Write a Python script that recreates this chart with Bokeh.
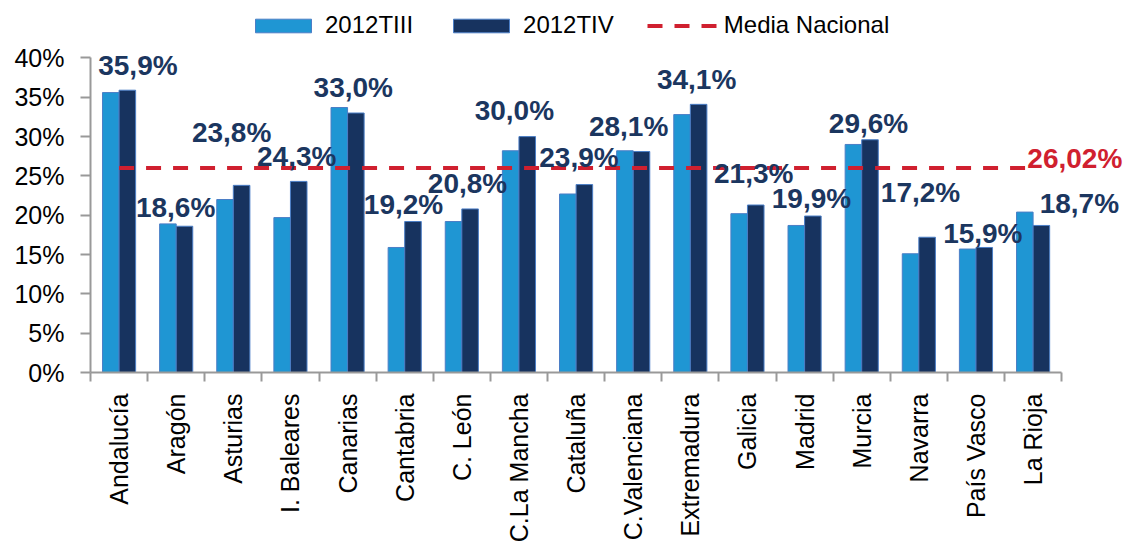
import math
from bokeh.plotting import figure
from bokeh.models import (ColumnDataSource, Range1d, FixedTicker, LabelSet, Label,
                          Legend, LegendItem)
from bokeh.core.properties import value
from bokeh.embed import file_html
from bokeh.resources import INLINE

# ---------------- data ----------------
regions = ["Andalucía", "Aragón", "Asturias", "I. Baleares", "Canarias", "Cantabria",
           "C. León", "C.La Mancha", "Cataluña", "C.Valenciana", "Extremadura",
           "Galicia", "Madrid", "Murcia", "Navarra", "País Vasco", "La Rioja"]
t3_2012 = [35.6, 18.9, 22.0, 19.7, 33.7, 15.9, 19.2, 28.2, 22.7, 28.2, 32.8,
           20.2, 18.7, 29.0, 15.1, 15.7, 20.4]
t4_2012 = [35.9, 18.6, 23.8, 24.3, 33.0, 19.2, 20.8, 30.0, 23.9, 28.1, 34.1,
           21.3, 19.9, 29.6, 17.2, 15.9, 18.7]
media_nacional = 26.02
y_ticks = [0, 5, 10, 15, 20, 25, 30, 35, 40]

# data-label placement (offset from category centre, label height in %)
label_dx = [0.33, -0.01, -0.03, 0.11, 0.10, -0.02, 0.10, -0.08, 0.05, -0.08, 0.11,
            0.11, 0.12, 0.12, 0.03, 0.12, 0.81]
label_y = [39.05, 21.04, 30.57, 27.52, 36.21, 21.39, 24.0, 33.33, 27.4, 31.3, 37.27,
           25.29, 22.11, 31.72, 22.87, 17.66, 21.47]
media_label_x, media_label_y = 17.23, 27.2

# ---------------- styles ----------------
LIGHT = "#1F96D3"
DARK = "#17335F"
OUTLINE = "#4B7EC6"
RED = "#D0202F"
NAVY = "#1B365F"
AXIS = "#999999"
FONT = "Liberation Sans"

n = len(regions)
y_max = 40
centers = [i + 0.5 for i in range(n)]
bw = 0.29

# frame is extended beyond the axes so labels/legend are not clipped;
# axes are bounded to the data extent
p = figure(width=1126, height=545, output_backend="svg", toolbar_location=None,
           x_range=Range1d(0, 18.10), y_range=Range1d(0, 46.29),
           min_border_left=90, min_border_right=2, min_border_top=8,
           min_border_bottom=173)
p.outline_line_color = None
p.grid.visible = False
p.background_fill_color = "white"
p.border_fill_color = "white"

src = ColumnDataSource(dict(
    xl=[c - bw / 2 for c in centers],
    xd=[c + bw / 2 for c in centers],
    t3=t3_2012, t4=t4_2012,
))

r3 = p.vbar(x="xl", top="t3", width=bw, source=src, fill_color=LIGHT,
            line_color=OUTLINE, line_width=1)
r4 = p.vbar(x="xd", top="t4", width=bw, source=src, fill_color=DARK,
            line_color=OUTLINE, line_width=1)

rl = p.line(x=[centers[0], centers[-1]], y=[media_nacional, media_nacional],
            line_color=RED, line_width=4, line_dash="15 12")

# data labels
lab_src = ColumnDataSource(dict(
    x=[c + d for c, d in zip(centers, label_dx)],
    y=label_y,
    text=[f"{v:.1f}%".replace(".", ",") for v in t4_2012],
))
p.add_layout(LabelSet(x="x", y="y", text="text", source=lab_src,
                      text_font=value(FONT), text_font_size=value("28px"),
                      text_font_style=value("bold"),
                      text_color=value(NAVY), text_align=value("center"),
                      text_baseline=value("middle")))
p.add_layout(Label(x=media_label_x, y=media_label_y,
                   text=f"{media_nacional:.2f}%".replace(".", ","),
                   text_font=FONT, text_font_size="28px", text_font_style="bold",
                   text_color=RED, text_align="center", text_baseline="middle"))

# axes
ya = p.yaxis[0]
ya.bounds = (0, y_max)
ya.ticker = FixedTicker(ticks=y_ticks)
ya.major_label_overrides = {t: f"{t}%" for t in y_ticks}
ya.axis_line_color = AXIS
ya.axis_line_width = 2
ya.major_tick_line_color = AXIS
ya.major_tick_line_width = 2
ya.major_tick_out = 10
ya.major_tick_in = 0
ya.minor_tick_line_color = None
ya.major_label_text_font = FONT
ya.major_label_text_font_size = "25px"
ya.major_label_text_color = "black"
ya.major_label_standoff = 16

xa = p.xaxis[0]
xa.bounds = (0, n)
xa.ticker = FixedTicker(ticks=centers, minor_ticks=list(range(n + 1)))
xa.major_label_overrides = {c: r for c, r in zip(centers, regions)}
xa.major_label_orientation = math.pi / 2
xa.axis_line_color = AXIS
xa.axis_line_width = 2
xa.major_tick_line_color = None
xa.minor_tick_line_color = AXIS
xa.minor_tick_line_width = 2
xa.minor_tick_out = 9
xa.minor_tick_in = 0
xa.major_label_text_font = FONT
xa.major_label_text_font_size = "25px"
xa.major_label_text_color = "black"
xa.major_label_standoff = 12

legend = Legend(items=[LegendItem(label="2012TIII", renderers=[r3]),
                       LegendItem(label="2012TIV", renderers=[r4]),
                       LegendItem(label="Media Nacional", renderers=[rl])],
                orientation="horizontal", location=(158, 333),
                glyph_width=70, glyph_height=17, label_standoff=7, spacing=33,
                padding=0, margin=0, border_line_color=None,
                background_fill_alpha=0,
                label_text_font=FONT, label_text_font_size="24px",
                label_text_color="black")
p.add_layout(legend, "center")

open("out.html", "w").write(file_html(p, INLINE))
